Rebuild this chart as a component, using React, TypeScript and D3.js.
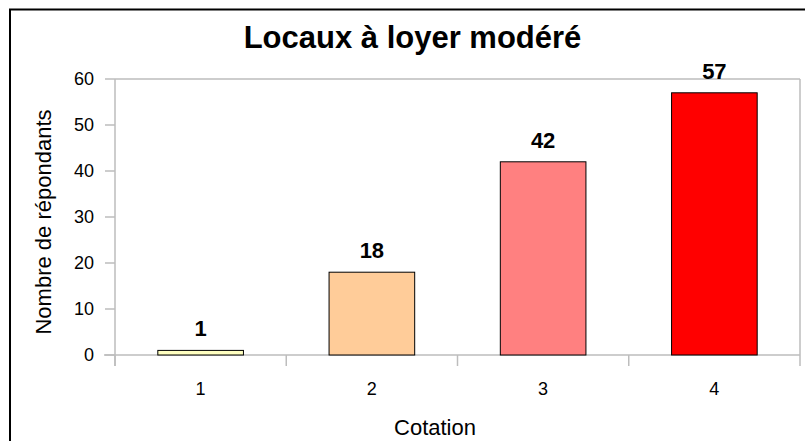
import React from "react";
import * as d3 from "d3";

const categories = ["1", "2", "3", "4"];
const values = [1, 18, 42, 57];
const barColors = ["#FFFFC0", "#FFCC99", "#FF8080", "#FF0000"];
const yTicks = [0, 10, 20, 30, 40, 50, 60];
const title = "Locaux à loyer modéré";
const xTitle = "Cotation";
const yTitle = "Nombre de répondants";

export default function App() {
  const W = 805, H = 441;
  const left = 115, right = 800, top = 79, bottom = 355;
  const x = d3.scaleBand<string>().domain(categories).range([left, right]).paddingInner(0.5).paddingOuter(0.25);
  const xb = d3.scaleBand<string>().domain(categories).range([left, right]);
  const y = d3.scaleLinear().domain([0, 60]).range([bottom, top]);
  const grid = "#BDBDBD";
  const font = "Liberation Sans, Arial, sans-serif";
  return (
    <svg width={W} height={H} style={{ position: "absolute", left: 0, top: 0, background: "#fff" }} fontFamily={font}>
      <rect x={10} y={9.5} width={W + 10} height={H + 10} fill="#fff" stroke="#000" strokeWidth={2} />
      <text x={412.5} y={48} textAnchor="middle" fontSize={31} fontWeight="bold">{title}</text>
      {/* plot frame */}
      <line x1={left} x2={right} y1={top} y2={top} stroke={grid} strokeWidth={1.5} />
      <line x1={right} x2={right} y1={top} y2={bottom + 11} stroke={grid} strokeWidth={1.5} />
      <line x1={left} x2={left} y1={top} y2={bottom + 11} stroke={grid} strokeWidth={1.5} />
      <line x1={left - 11} x2={right} y1={bottom} y2={bottom} stroke={grid} strokeWidth={1.5} />
      {yTicks.map((t) => (
        <g key={t}>
          <line x1={left - 10} x2={left} y1={y(t)} y2={y(t)} stroke={grid} strokeWidth={1.5} />
          <text x={94} y={y(t)} dy="0.36em" textAnchor="end" fontSize={18}>{t}</text>
        </g>
      ))}
      {categories.map((c) => (
        <line key={c} x1={xb(c)!} x2={xb(c)!} y1={bottom} y2={bottom + 11} stroke={grid} strokeWidth={1.5} />
      ))}
      {categories.map((c, i) => (
        <g key={c}>
          <rect x={x(c)!} y={y(values[i])} width={x.bandwidth()} height={bottom - y(values[i])} fill={barColors[i]} stroke="#000" strokeWidth={1} />
          <text x={x(c)! + x.bandwidth() / 2} y={y(values[i]) - 14} textAnchor="middle" fontSize={22} fontWeight="bold">{values[i]}</text>
          <text x={x(c)! + x.bandwidth() / 2} y={395} textAnchor="middle" fontSize={18}>{c}</text>
        </g>
      ))}
      <text x={435} y={435} textAnchor="middle" fontSize={22}>{xTitle}</text>
      <text transform={`translate(51,222) rotate(-90)`} textAnchor="middle" fontSize={22}>{yTitle}</text>
    </svg>
  );
}
